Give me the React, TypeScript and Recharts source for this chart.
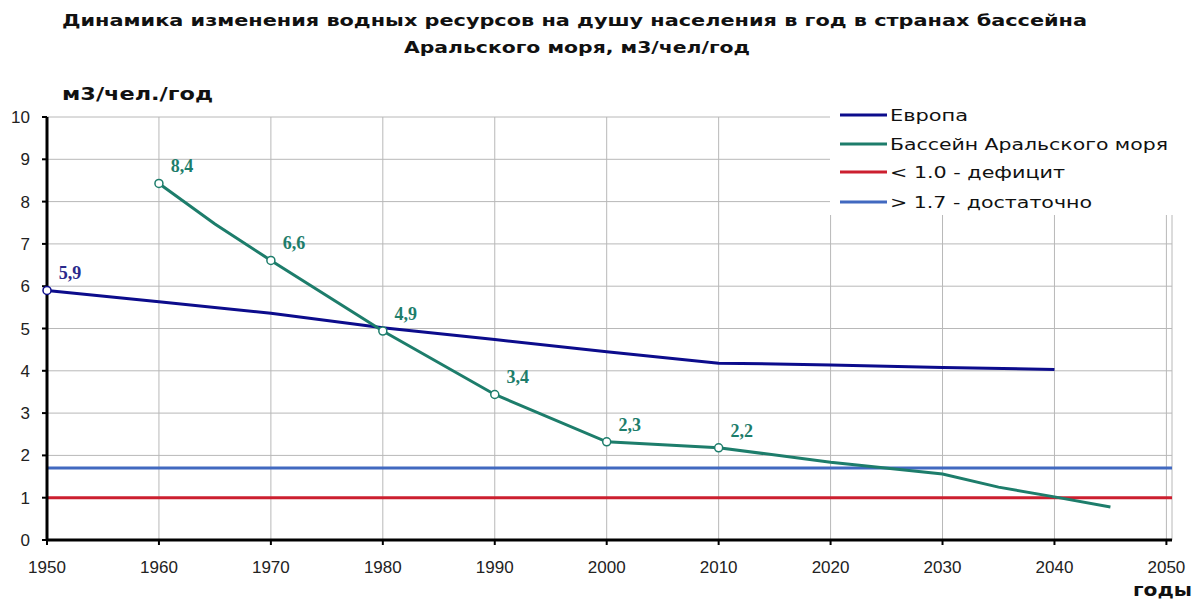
import React from "react";
import {
  LineChart,
  Line,
  XAxis,
  YAxis,
  CartesianGrid,
  ReferenceLine,
  Legend,
  LabelList,
} from "recharts";

// Axis ticks
const xTicks = [1950, 1960, 1970, 1980, 1990, 2000, 2010, 2020, 2030, 2040, 2050];
const yTicks = [0, 1, 2, 3, 4, 5, 6, 7, 8, 9, 10];

// Европа
const europeYears = [1950, 1960, 1970, 1980, 1990, 2000, 2010, 2020, 2030, 2040];
const europeValues = [5.9, 5.63, 5.36, 5.02, 4.74, 4.45, 4.18, 4.14, 4.08, 4.03];
const europeLabels = ["5,9", "", "", "", "", "", "", "", "", ""];

// Бассейн Аральского моря
const aralYears = [1960, 1965, 1970, 1980, 1990, 2000, 2010, 2020, 2030, 2035, 2040, 2045];
const aralValues = [8.43, 7.47, 6.61, 4.94, 3.44, 2.32, 2.18, 1.84, 1.56, 1.25, 1.02, 0.78];
const aralLabels = ["8,4", "", "6,6", "4,9", "3,4", "2,3", "2,2", "", "", "", "", ""];

// Пороговые уровни
const deficitLevel = 1.0;
const sufficientLevel = 1.7;

const legendNames = [
  "Европа",
  "Бассейн Аральского моря",
  "< 1.0 - дефицит",
  "> 1.7 - достаточно",
];
const legendColors = ["#0c0c8c", "#1d7d6b", "#cc1f2f", "#4169c0"];
const legendTextWidths = [78, 278, 175, 202];

const europeData = europeYears.map((year, i) => ({
  year,
  value: europeValues[i],
  label: europeLabels[i],
}));
const aralData = aralYears.map((year, i) => ({
  year,
  value: aralValues[i],
  label: aralLabels[i],
}));

const tickStyle = { fontSize: 17, fill: "#222", fontFamily: "Liberation Sans, Arial" };

function makeDot(color: string) {
  return (props: any) => {
    const { cx, cy, payload, index } = props;
    if (!payload || !payload.label) return <g key={`d-${index}`} />;
    return (
      <circle
        key={`d-${index}`}
        cx={cx}
        cy={cy}
        r={4}
        fill="#fff"
        stroke={color}
        strokeWidth={1.5}
      />
    );
  };
}

function makeLabel(color: string) {
  return (props: any) => {
    const { x, y, value, index } = props;
    if (!value) return null;
    return (
      <text
        key={`l-${index}`}
        x={x + 23}
        y={y - 11}
        textAnchor="middle"
        fill={color}
        fontFamily="Liberation Serif, Times New Roman"
        fontWeight="bold"
        fontSize={18}
      >
        {value}
      </text>
    );
  };
}

function LegendBox() {
  return (
    <svg width={356} height={115}>
      {legendNames.map((name, i) => {
        const cy = [15, 44, 72, 102][i];
        return (
          <g key={name}>
            <line x1={10} x2={57} y1={cy} y2={cy} stroke={legendColors[i]} strokeWidth={3} />
            <text
              x={60}
              y={cy + 5.5}
              fontFamily="DejaVu Sans, Verdana"
              fontSize={16}
              fill="#111"
              textLength={legendTextWidths[i]}
              lengthAdjust="spacingAndGlyphs"
            >
              {name}
            </text>
          </g>
        );
      })}
    </svg>
  );
}

export default function App() {
  return (
    <div style={{ position: "relative", width: 1196, height: 599, background: "#fff" }}>
      <style>{"body{margin:0}"}</style>
      <LineChart
        width={1196}
        height={599}
        margin={{ top: 117, right: 24, bottom: 29, left: 0 }}
      >
        <CartesianGrid stroke="#b8b8b8" strokeWidth={1} />
        <XAxis
          type="number"
          dataKey="year"
          domain={[1950, 2050.5]}
          ticks={xTicks}
          tick={tickStyle}
          tickSize={5}
          tickMargin={16}
          height={30}
          axisLine={{ stroke: "#000", strokeWidth: 3 }}
          tickLine={{ stroke: "#000", strokeWidth: 2 }}
        />
        <YAxis
          type="number"
          domain={[0, 10]}
          ticks={yTicks}
          tick={tickStyle}
          tickSize={5}
          tickMargin={12}
          width={47}
          axisLine={{ stroke: "#000", strokeWidth: 3 }}
          tickLine={{ stroke: "#000", strokeWidth: 2 }}
        />
        <ReferenceLine y={deficitLevel} stroke={legendColors[2]} strokeWidth={3} />
        <ReferenceLine y={sufficientLevel} stroke={legendColors[3]} strokeWidth={3} />
        <Line
          data={europeData}
          dataKey="value"
          type="linear"
          stroke={legendColors[0]}
          strokeWidth={3}
          dot={makeDot(legendColors[0])}
          activeDot={false}
          isAnimationActive={false}
        >
          <LabelList dataKey="label" content={makeLabel("#2a2a8c")} />
        </Line>
        <Line
          data={aralData}
          dataKey="value"
          type="linear"
          stroke={legendColors[1]}
          strokeWidth={3}
          dot={makeDot(legendColors[1])}
          activeDot={false}
          isAnimationActive={false}
        >
          <LabelList dataKey="label" content={makeLabel(legendColors[1])} />
        </Line>
        <Legend
          layout="vertical"
          align="center"
          verticalAlign="middle"
          content={<LegendBox />}
          wrapperStyle={{
            position: "absolute",
            left: 830,
            top: 100,
            width: 356,
            height: 115,
            background: "#fff",
          }}
        />
      </LineChart>
      <svg
        width={1196}
        height={599}
        style={{ position: "absolute", left: 0, top: 0, pointerEvents: "none" }}
      >
        <g fontFamily="DejaVu Sans, Verdana" fontWeight="bold" fill="#111">
          <text x={62} y={26} fontSize={16} textLength={1025} lengthAdjust="spacingAndGlyphs">
            Динамика изменения водных ресурсов на душу населения в год в странах бассейна
          </text>
          <text x={404} y={53} fontSize={16} textLength={346} lengthAdjust="spacingAndGlyphs">
            Аральского моря, м3/чел/год
          </text>
          <text x={62} y={100} fontSize={17} textLength={151} lengthAdjust="spacingAndGlyphs">
            м3/чел./год
          </text>
          <text x={1133} y={596} fontSize={17} textLength={59} lengthAdjust="spacingAndGlyphs">
            годы
          </text>
        </g>
      </svg>
    </div>
  );
}
